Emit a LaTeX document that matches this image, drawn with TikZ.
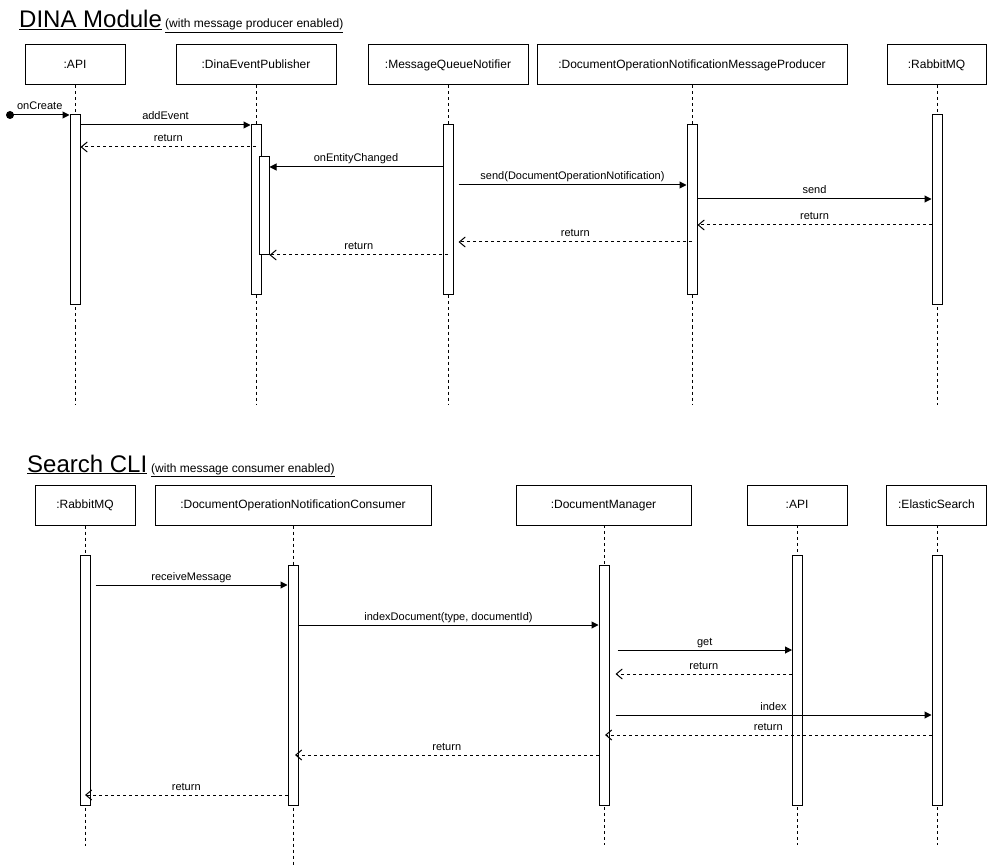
\documentclass[tikz,border=0pt]{standalone}
\usepackage{fontspec}
\setmainfont{Liberation Sans}
\usetikzlibrary{arrows.meta,calc}
\begin{document}
\begin{tikzpicture}[x=1pt,y=-1pt,
  part/.style={draw, line width=1pt, minimum height=40, font=\fontsize{12}{14}\selectfont, inner sep=0, text height=9pt, text depth=2pt},
  life/.style={line width=1pt, dash pattern=on 3pt off 3pt},
  act/.style={draw, fill=white, line width=1pt, minimum width=10, inner sep=0},
  msg/.style={line width=1pt, -{Triangle[length=7pt,width=7pt]}},
  ret/.style={line width=1pt, dash pattern=on 3pt off 3pt, -{Straight Barb[length=6pt,width=10pt]}},
  lbl/.style={font=\fontsize{11}{13}\selectfont, anchor=base, yshift=5pt, inner sep=0},
  ttl/.style={font=\fontsize{24}{28}\selectfont, anchor=base west, inner sep=0},
  sub/.style={font=\fontsize{12}{14}\selectfont, anchor=base west, inner sep=0},
]
\useasboundingbox (0,0) rectangle (987,866);

% ---------- titles ----------
\node[ttl] (t1) at (19,28) {\underline{DINA Module}};
\node[sub] (s1) at (165,28) {\underline{(with message producer enabled)}};
\node[ttl] (t2) at (27,472) {\underline{Search CLI}};
\node[sub] (s2) at (151,472) {\underline{(with message consumer enabled)}};

% ---------- y levels ----------
\coordinate (topend) at (0,405);
\coordinate (m1) at (0,125);
\coordinate (m2) at (0,147);
\coordinate (m3) at (0,167);
\coordinate (m4) at (0,185);
\coordinate (m5) at (0,199);
\coordinate (m6) at (0,225);
\coordinate (m7) at (0,242);
\coordinate (m8) at (0,255);
\coordinate (botend) at (0,845);
\coordinate (botendR) at (0,846);
\coordinate (botendC) at (0,866);
\coordinate (n1) at (0,585);
\coordinate (n2) at (0,625);
\coordinate (n3) at (0,650);
\coordinate (n4) at (0,674);
\coordinate (n5) at (0,715);
\coordinate (n6) at (0,735);
\coordinate (n7) at (0,755);
\coordinate (n8) at (0,795);

% ---------- top participants ----------
\node[part, minimum width=100] (api) at (75,65) {:API};
\node[part, minimum width=160] (dep) at (256,65) {:DinaEventPublisher};
\node[part, minimum width=160] (mqn) at (448,65) {:MessageQueueNotifier};
\node[part, minimum width=310] (prod) at (692,65) {:DocumentOperationNotificationMessageProducer};
\node[part, minimum width=99] (rmq) at (936.5,65) {:RabbitMQ};

\foreach \p in {api,dep,mqn,prod} \draw[life] (\p.south) -- (\p.south |- topend);
\draw[life] (937,85) -- (937,405);

% activations
\node[act, minimum height=190] (apiA) at (75,210) {};
\node[act, minimum height=170] (depA) at (256,210) {};
\node[act, minimum height=98] (depN) at (264,206) {};
\node[act, minimum height=170] (mqnA) at (448,210) {};
\node[act, minimum height=170] (prodA) at (692,210) {};
\node[act, minimum height=190] (rmqA) at (937,210) {};

% messages
\node[circle, fill, inner sep=0, minimum size=8] (start) at (10,115) {};
\draw[msg] (start.center) -- node[lbl]{onCreate} (apiA.west |- start);
\draw[msg] (apiA.east |- m1) -- node[lbl]{addEvent} (depA.west |- m1);
\draw[ret] (depA.center |- m2) -- node[lbl]{return} (apiA.east |- m2);
\draw[msg] (mqnA.west |- m3) -- node[lbl]{onEntityChanged} (depN.east |- m3);
\draw[msg] ($(mqnA.east |- m4)+(5,0)$) -- node[lbl]{send(DocumentOperationNotification)} (prodA.west |- m4);
\draw[msg] (prodA.east |- m5) -- node[lbl]{send} (rmqA.west |- m5);
\draw[ret] (rmqA.west |- m6) -- node[lbl]{return} (prodA.east |- m6);
\draw[ret] (prodA.center |- m7) -- node[lbl]{return} ($(mqnA.east |- m7)+(5,0)$);
\draw[ret] (mqnA.center |- m8) -- node[lbl]{return} (depN.east |- m8);

% ---------- bottom participants ----------
\node[part, minimum width=100] (rmq2) at (85,505) {:RabbitMQ};
\node[part, minimum width=276] (cons) at (293,505) {:DocumentOperationNotificationConsumer};
\node[part, minimum width=175] (dm) at (603.5,505) {:DocumentManager};
\node[part, minimum width=100] (api2) at (797,505) {:API};
\node[part, minimum width=100] (es) at (936.5,505) {:ElasticSearch};

\draw[life] (rmq2.south) -- (rmq2.south |- botendR);
\draw[life] (cons.south) -- (cons.south |- botendC);
\draw[life] (604,525) -- (604,845);
\draw[life] (797.5,525) -- (797.5,845);
\draw[life] (937,525) -- (937,845);

% activations
\node[act, minimum height=250] (rmq2A) at (85,680) {};
\node[act, minimum height=240] (consA) at (293,685) {};
\node[act, minimum height=240] (dmA) at (604,685) {};
\node[act, minimum height=250] (api2A) at (797.5,680) {};
\node[act, minimum height=250] (esA) at (937,680) {};

% messages
\draw[msg] ($(rmq2A.east |- n1)+(5,0)$) -- node[lbl]{receiveMessage} (consA.west |- n1);
\draw[msg] (consA.east |- n2) -- node[lbl]{indexDocument(type, documentId)} (dmA.west |- n2);
\draw[msg] ($(dmA.east |- n3)+(8,0)$) -- node[lbl]{get} (api2A.west |- n3);
\draw[ret] (api2A.west |- n4) -- node[lbl]{return} ($(dmA.east |- n4)+(6,0)$);
\draw[msg] ($(dmA.east |- n5)+(6,0)$) -- node[lbl]{index} (esA.west |- n5);
\draw[ret] (esA.west |- n6) -- node[lbl]{return} ($(dmA.center |- n6)+(1,0)$);
\draw[ret] (dmA.west |- n7) -- node[lbl]{return} ($(consA.center |- n7)+(2,0)$);
\draw[ret] (consA.west |- n8) -- node[lbl]{return} (rmq2A.center |- n8);
\end{tikzpicture}
\end{document}
